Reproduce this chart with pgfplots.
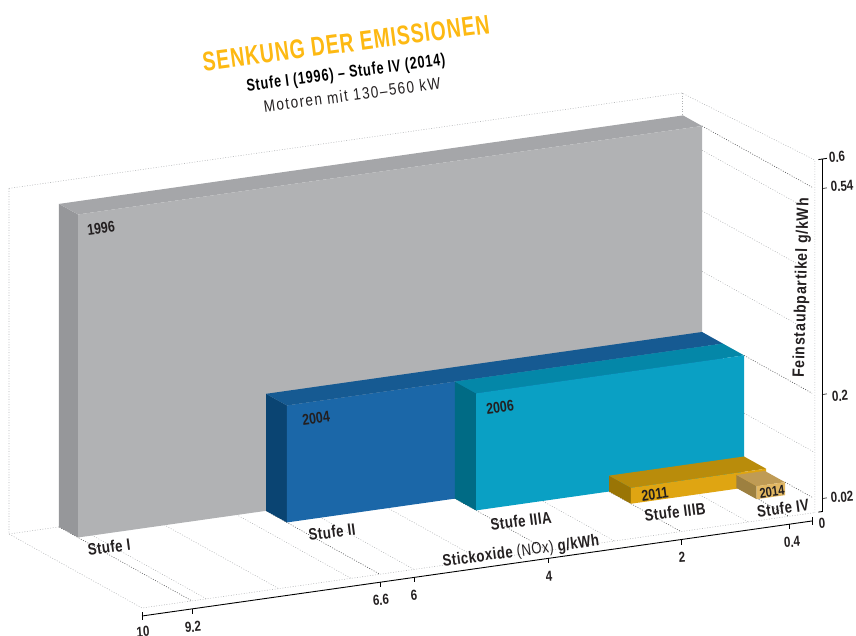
\documentclass[border=0pt]{standalone}
\usepackage{fontspec}
\setmainfont[FakeStretch=0.8]{Liberation Sans}
\newfontfamily\titlefont[FakeStretch=0.72,LetterSpace=3.5]{Liberation Sans}
\newfontfamily\subfont[FakeStretch=0.74,LetterSpace=5]{Liberation Sans}
\newfontfamily\motorfont[FakeStretch=0.82,LetterSpace=9]{Liberation Sans}
\newfontfamily\stagefont[FakeStretch=0.8,LetterSpace=3]{Liberation Sans}
\newfontfamily\widefont[FakeStretch=0.85,LetterSpace=5]{Liberation Sans}
\usepackage{pgfplots}
\pgfplotsset{compat=1.18}
\usetikzlibrary{calc}

\definecolor{titlegold}{HTML}{FDB913}
\definecolor{labelblack}{HTML}{231F20}
\definecolor{griddark}{HTML}{58595B}
\definecolor{gridlight}{HTML}{B0B2B4}

% one block: xleft xright yfront yback height, colours front top side
\newcommand{\block}[8]{
  \addplot3[fill=#8,draw=none] coordinates {(#1,#3,0) (#1,#4,0) (#1,#4,#5) (#1,#3,#5)};
  \addplot3[fill=#7,draw=none] coordinates {(#1,#3,#5) (#1,#4,#5) (#2,#4,#5) (#2,#3,#5)};
  \addplot3[fill=#6,draw=none] coordinates {(#1,#3,0) (#2,#3,0) (#2,#3,#5) (#1,#3,#5)};
}
\pgfplotsset{
  griddot/.style={draw=gridlight,line width=0.55pt,dash pattern=on 0.9pt off 1.7pt},
  griddotdark/.style={draw=griddark,line width=0.6pt,dash pattern=on 0.9pt off 1.6pt},
  axisline/.style={draw=black,line width=0.9pt},
}
\tikzset{
  lab/.style={font=\stagefont\bfseries\fontsize{16.5}{18}\selectfont,text=labelblack,rotate=7.5,inner sep=0pt},
  year/.style={font=\bfseries\fontsize{15.5}{17}\selectfont,text=labelblack,rotate=7.5,inner sep=0pt},
  tick/.style={font=\bfseries\fontsize{14.5}{16}\selectfont,text=labelblack,rotate=4,inner sep=0pt},
}

\begin{document}
\begin{tikzpicture}
\begin{axis}[
  disabledatascaling,
  hide axis,
  clip=false,
  x={(1pt,0.1418pt)},
  y={(-133pt,74pt)},
  z={(0pt,1pt)},
  % the chart's scales are not even: tick positions along each axis
  x coord trafo/.code={\pgfmathparse{#1>=9.2 ? (10-#1)*62.5 : (#1>=6.6 ? 50+(9.2-#1)*72.3 : (#1>=6 ? 238+(6.6-#1)*56.7 : (#1>=4 ? 272+(6-#1)*67 : (#1>=2 ? 406+(4-#1)*66.5 : (#1>=0.4 ? 539+(2-#1)*67.5 : 647+(0.4-#1)*57.5)))))}},
  z coord trafo/.code={\pgfmathparse{#1<=0.02 ? #1*650 : (#1<=0.2 ? 13+(#1-0.02)*577.8 : (#1<=0.54 ? 117+(#1-0.2)*605.9 : 323+(#1-0.54)*491.7))}},
  xmin=-0.3,xmax=10,ymin=0,ymax=1,zmin=-0.03,zmax=0.6,
  xtick=\empty,ytick=\empty,ztick=\empty,
]
\coordinate (O) at (axis cs:10,0,0);

% walls and floor outline
\addplot3[griddot] coordinates {(10,1,0.586) (-0.05,1,0.586) (-0.05,0,0.6) (-0.05,0,0)};
\addplot3[griddot] coordinates {(-0.05,1,0.586) (-0.05,1,0.5)};
\addplot3[griddot] coordinates {(10,1,0.586) (10,1,0) (10,0,0) (-0.05,0,0)};
\addplot3[griddot] coordinates {(10,1,0) (-0.05,1,0)};

% floor lines
\foreach \nox in {9,8,7,6,5,3,1} {
  \edef\temp{\noexpand\addplot3[griddot] coordinates {(\nox,1,0) (\nox,0,0)};}
  \temp
}
\foreach \nox in {9.2,6.6,4,2,0.4} {
  \edef\temp{\noexpand\addplot3[griddotdark] coordinates {(\nox,1,0) (\nox,0,0)};}
  \temp
}
% right wall lines
\addplot3[griddot] coordinates {(-0.07,0.857,0.5) (-0.07,0.11,0.5)};
\addplot3[griddot] coordinates {(-0.07,0.857,0.4) (-0.07,0.14,0.4)};
\addplot3[griddot] coordinates {(-0.07,0.857,0.3) (-0.07,0.11,0.3)};
\addplot3[griddot] coordinates {(-0.07,0.541,0.1) (-0.07,0.02,0.1)};
\addplot3[griddotdark] coordinates {(-0.07,0.857,0.54) (-0.07,0.03,0.54)};
\addplot3[griddotdark] coordinates {(-0.07,0.541,0.2) (-0.07,0.03,0.2)};
\addplot3[griddotdark] coordinates {(-0.07,0.233,0.02) (-0.07,0.02,0.02)};

% blocks, back to front
\block{9.2}{-0.07}{0.857}{1}{0.54}{ {rgb,255:red,177;green,178;blue,180} }{ {rgb,255:red,165;green,166;blue,169} }{ {rgb,255:red,150;green,151;blue,154} }
\block{6.6}{-0.07}{0.70}{0.857}{0.2}{ {rgb,255:red,27;green,103;blue,168} }{ {rgb,255:red,22;green,90;blue,146} }{ {rgb,255:red,10;green,68;blue,114} }
\block{4}{-0.07}{0.541}{0.70}{0.2}{ {rgb,255:red,10;green,160;blue,196} }{ {rgb,255:red,4;green,135;blue,168} }{ {rgb,255:red,0;green,107;blue,133} }
\block{2}{-0.07}{0.376}{0.541}{0.025}{ {rgb,255:red,223;green,165;blue,18} }{ {rgb,255:red,185;green,140;blue,11} }{ {rgb,255:red,154;green,117;blue,5} }
\block{0.42}{-0.07}{0.233}{0.385}{0.02}{ {rgb,255:red,225;green,183;blue,99} }{ {rgb,255:red,191;green,155;blue,85} }{ {rgb,255:red,157;green,128;blue,64} }

% x axis
\addplot3[axisline] coordinates {(10,0,-0.0123) (0,0,-0.0123)};
\addplot3[axisline] coordinates {(10,0,-0.0062) (10,0,-0.0185)};
\addplot3[axisline] coordinates {(0,0,-0.0062) (0,0,-0.0185)};
\foreach \nox in {9.2,6.6,6,4,2,0.4} {
  \edef\temp{\noexpand\addplot3[draw=black,line width=0.6pt] coordinates {(\nox,0,-0.0123) (\nox,0,-0.02)};}
  \temp
}
% z axis
\addplot3[axisline] coordinates {(-0.174,0,0) (-0.174,0,0.6)};
\addplot3[axisline] coordinates {(-0.11,0,0.6) (-0.26,0,0.6)};
\addplot3[axisline] coordinates {(-0.11,0,0) (-0.174,0,0)};
\foreach \pm in {0.54,0.2,0.02} {
  \edef\temp{\noexpand\addplot3[draw=black,line width=0.6pt] coordinates {(-0.174,0,\pm) (-0.26,0,\pm)};}
  \temp
}
\end{axis}

\pgfresetboundingbox
\path[use as bounding box] ($(O)+(-142pt,-28pt)$) rectangle ($(O)+(714pt,608pt)$);

% text, placed in image pixels
\begin{scope}[shift={($(O)+(-142pt,608pt)$)},x=1pt,y=-1pt]
\node[rotate=7.5,text=titlegold,inner sep=0pt,font=\titlefont\bfseries\fontsize{27}{30}\selectfont] at (346,43) {SENKUNG DER EMISSIONEN};
\node[rotate=7.5,text=black,inner sep=0pt,font=\subfont\bfseries\fontsize{17}{19}\selectfont] at (346,74) {Stufe I (1996) – Stufe IV (2014)};
\node[rotate=7.5,text=labelblack,inner sep=0pt,font=\motorfont\fontsize{16.5}{18}\selectfont] at (352,95) {Motoren mit 130–560 kW};

\node[year] at (101,228) {1996};
\node[year] at (316,418) {2004};
\node[year] at (500,407) {2006};
\node[year] at (655,494) {2011};
\node[year,font=\bfseries\fontsize{14}{16}\selectfont] at (772,492) {2014};

\node[lab] at (109,547) {Stufe I};
\node[lab] at (332,532) {Stufe II};
\node[lab] at (521,521) {Stufe IIIA};
\node[lab] at (675,512) {Stufe IIIB};
\node[lab] at (783,508) {Stufe IV};

\node[lab] at (521,552) {Stickoxide {\mdseries(NOx)} g/kWh};
\node[lab,font=\widefont\bfseries\fontsize{16.5}{18}\selectfont,rotate=81] at (802,288) {Feinstaubpartikel g/kWh};

\node[tick] at (143,632) {10};
\node[tick] at (193,627) {9.2};
\node[tick] at (381,600) {6.6};
\node[tick] at (414,595) {6};
\node[tick] at (549,576) {4};
\node[tick] at (682,557) {2};
\node[tick] at (792,542) {0.4};

\node[tick] at (837,157) {0.6};
\node[tick] at (842,186) {0.54};
\node[tick] at (840,396) {0.2};
\node[tick] at (842,497) {0.02};
\node[tick] at (822,523) {0};
\end{scope}
\end{tikzpicture}
\end{document}
